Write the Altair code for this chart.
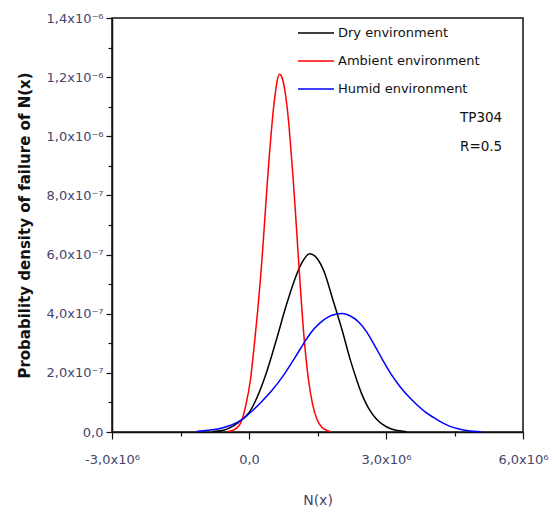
import altair as alt
import pandas as pd

# N(x) in units of 1e6, probability density in units of 1e-6
dry_n = [-0.80, -0.54, -0.35, -0.17, 0.00, 0.12, 0.37, 0.60, 0.80, 1.00, 1.15, 1.33,
         1.50, 1.65, 1.82, 2.04, 2.22, 2.35, 2.47, 2.62, 2.78, 2.95, 3.10, 3.25, 3.45]
dry_p = [0.002, 0.007, 0.020, 0.040, 0.065, 0.098, 0.195, 0.312, 0.420, 0.515, 0.570, 0.603,
         0.585, 0.540, 0.456, 0.344, 0.243, 0.180, 0.128, 0.080, 0.046, 0.023, 0.011, 0.005, 0.001]

amb_n = [-0.46, -0.33, -0.17, -0.07, 0.03, 0.10, 0.19, 0.26, 0.31, 0.35, 0.39, 0.44, 0.48,
         0.52, 0.58, 0.62, 0.67, 0.72, 0.78, 0.83, 0.87, 0.91, 0.96, 1.01, 1.06, 1.12, 1.20,
         1.30, 1.39, 1.49, 1.60, 1.71, 1.78]
amb_p = [0.002, 0.007, 0.035, 0.090, 0.175, 0.270, 0.410, 0.535, 0.640, 0.730, 0.820, 0.925,
         1.000, 1.070, 1.150, 1.190, 1.210, 1.200, 1.160, 1.105, 1.045, 0.970, 0.870, 0.760,
         0.640, 0.500, 0.330, 0.180, 0.095, 0.042, 0.015, 0.005, 0.002]

hum_n = [-1.15, -0.90, -0.61, -0.40, -0.17, 0.00, 0.26, 0.50, 0.77, 1.02, 1.20, 1.35, 1.55,
         1.75, 1.90, 2.04, 2.20, 2.40, 2.58, 2.75, 2.94, 3.10, 3.30, 3.50, 3.67, 3.85, 4.03,
         4.20, 4.39, 4.60, 4.80, 5.08]
hum_p = [0.002, 0.006, 0.013, 0.023, 0.040, 0.062, 0.100, 0.140, 0.195, 0.255, 0.300, 0.335,
         0.368, 0.390, 0.398, 0.401, 0.394, 0.372, 0.338, 0.293, 0.240, 0.198, 0.155, 0.119,
         0.093, 0.069, 0.050, 0.034, 0.020, 0.010, 0.004, 0.001]

series_names = ["Dry environment", "Ambient environment", "Humid environment"]
series_colors = ["#000000", "#ff0000", "#0000ff"]
series_widths = [1.5, 1.5, 2.4]

x_ticks = [-3, -1.5, 0, 1.5, 3, 4.5, 6]
y_ticks = [0, 0.1, 0.2, 0.3, 0.4, 0.5, 0.6, 0.7, 0.8, 0.9, 1.0, 1.1, 1.2, 1.3, 1.4]
y_labels = ["0,0", "2,0x10⁻⁷", "4,0x10⁻⁷", "6,0x10⁻⁷", "8,0x10⁻⁷",
            "1,0x10⁻⁶", "1,2x10⁻⁶", "1,4x10⁻⁶"]

frames = []
for name, n, p in zip(series_names, [dry_n, amb_n, hum_n], [dry_p, amb_p, hum_p]):
    frames.append(pd.DataFrame({"N": n, "P": p, "env": name}))
df = pd.concat(frames, ignore_index=True)
df["order"] = df["env"].map({k: i for i, k in enumerate(series_names)})

label_color = "#45456e"
font = "DejaVu Sans"

x_label_expr = (
    "datum.value == -3 ? '-3,0x10⁶' : datum.value == 0 ? '0,0' : "
    "datum.value == 3 ? '3,0x10⁶' : datum.value == 6 ? '6,0x10⁶' : ''"
)
y_label_expr = (
    "abs(datum.value*5 - round(datum.value*5)) < 0.01 ? "
    + str(y_labels).replace('"', "'")
    + "[round(datum.value*5)] : ''"
)

lines = alt.Chart(df).mark_line(interpolate="monotone").encode(
    x=alt.X(
        "N:Q",
        scale=alt.Scale(domain=[-3, 6], nice=False, zero=False),
        axis=alt.Axis(
            values=x_ticks,
            labelExpr=x_label_expr,
            title="N(x)",
            grid=False,
            tickSize={"condition": {"test": "abs(datum.value % 3) < 0.01", "value": 7}, "value": 4},
            labelPadding=14,
            labelFontSize=13,
            titleFontSize=14,
            titleFontWeight="normal",
            titlePadding=27,
            labelFlush=False,
            labelOverlap=False,
        ),
    ),
    y=alt.Y(
        "P:Q",
        scale=alt.Scale(domain=[0, 1.4], nice=False),
        axis=alt.Axis(
            values=y_ticks,
            labelExpr=y_label_expr,
            title="Probability density of failure of N(x)",
            grid=False,
            tickSize={"condition": {"test": "abs(datum.value*5 - round(datum.value*5)) < 0.01", "value": 6}, "value": 4},
            labelPadding=3,
            labelFontSize=13,
            titleFontSize=15,
            titleFontWeight="bold",
            titleColor="#111111",
            titlePadding=14,
            labelFlush=False,
            labelOverlap=False,
        ),
    ),
    color=alt.Color(
        "env:N",
        scale=alt.Scale(domain=series_names, range=series_colors),
        legend=alt.Legend(
            title=None,
            orient="none",
            legendX=185,
            legendY=-4,
            symbolType="stroke",
            symbolSize=1296,
            symbolStrokeWidth=2.5,
            labelFontSize=13,
            labelColor="#111111",
            labelOffset=3,
            rowPadding=2,
        ),
    ),
    strokeWidth=alt.StrokeWidth(
        "env:N", scale=alt.Scale(domain=series_names, range=series_widths), legend=None
    ),
    order=alt.Order("order:Q"),
)

notes = pd.DataFrame({"txt": ["TP304", "R=0.5"]})
tp = alt.Chart(notes.iloc[[0]]).mark_text(
    align="left", baseline="middle", fontSize=13.5, font=font, color="#111111"
).encode(text="txt:N", x=alt.value(348), y=alt.value(100))
rr = alt.Chart(notes.iloc[[1]]).mark_text(
    align="left", baseline="middle", fontSize=13.5, font=font, color="#111111"
).encode(text="txt:N", x=alt.value(348), y=alt.value(129))

chart = (
    alt.layer(lines, tp, rr)
    .properties(
        width=411,
        height=414,
        autosize=alt.AutoSizeParams(type="none"),
        padding={"left": 112, "top": 18, "right": 31, "bottom": 82},
        background="white",
    )
    .configure_view(stroke="#111111", strokeWidth=1.5)
    .configure_axis(
        domainColor="#111111",
        domainWidth=1.5,
        tickColor="#111111",
        tickWidth=1.2,
        labelColor=label_color,
        titleColor=label_color,
        labelFont=font,
        titleFont=font,
    )
    .configure_legend(labelFont=font)
)

chart.save("out.html", embed_options={"renderer": "svg", "actions": False})
